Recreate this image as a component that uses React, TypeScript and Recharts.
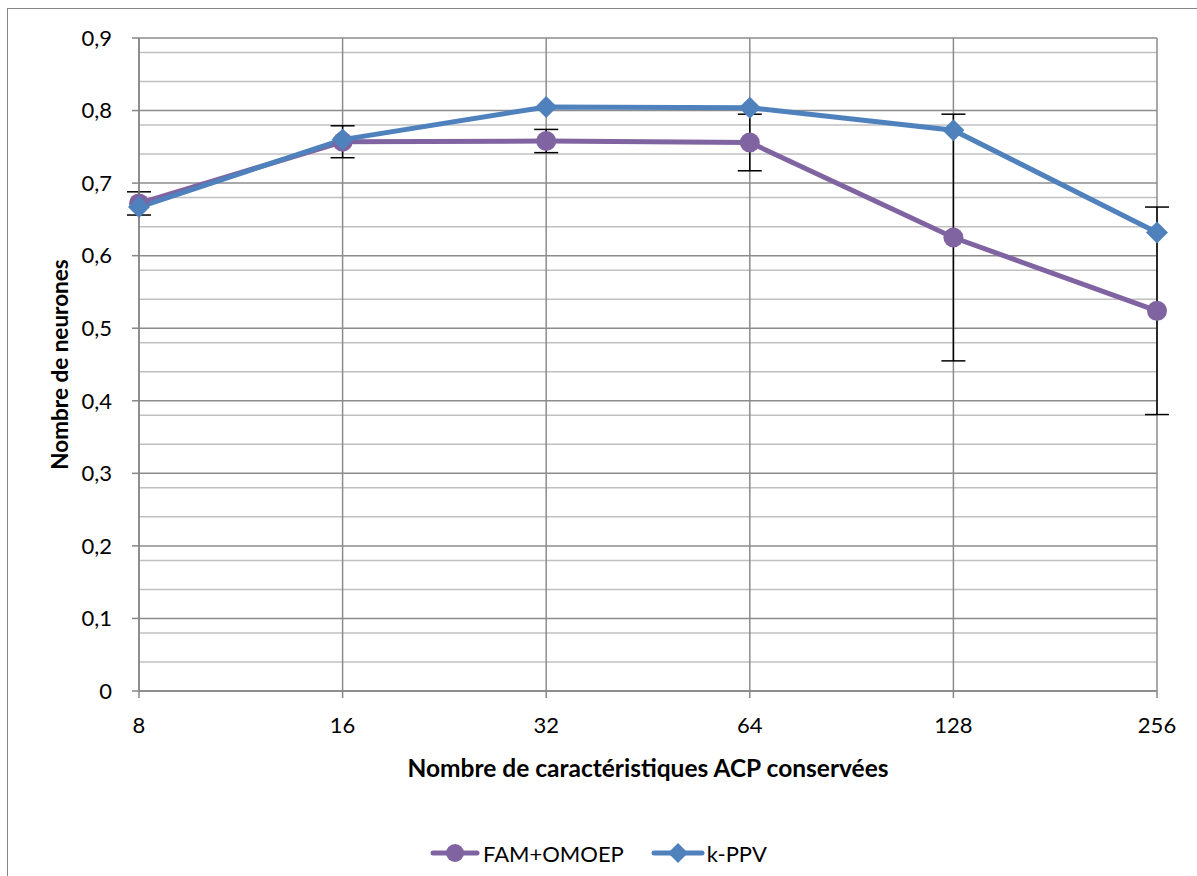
import { LineChart, Line, XAxis, YAxis, CartesianGrid, ErrorBar } from 'recharts'

const categories = ['8', '16', '32', '64', '128', '256']
const famValues = [0.672, 0.757, 0.758, 0.756, 0.625, 0.524]
const famErrors = [0.016, 0.022, 0.016, 0.039, 0.17, 0.143]
const ppvValues = [0.667, 0.76, 0.805, 0.804, 0.773, 0.632]
const yTicks = [0, 0.1, 0.2, 0.3, 0.4, 0.5, 0.6, 0.7, 0.8, 0.9]
const yMinorTicks = [
  0.02, 0.04, 0.06, 0.08, 0.12, 0.14, 0.16, 0.18, 0.22, 0.24, 0.26, 0.28,
  0.32, 0.34, 0.36, 0.38, 0.42, 0.44, 0.46, 0.48, 0.52, 0.54, 0.56, 0.58,
  0.62, 0.64, 0.66, 0.68, 0.72, 0.74, 0.76, 0.78, 0.82, 0.84, 0.86, 0.88,
]

const data = categories.map((c, i) => ({
  name: c,
  fam: famValues[i],
  famErr: famErrors[i],
  ppv: ppvValues[i],
}))

const PURPLE = '#8064A2'
const BLUE = '#4F81BD'
const FONT = 'Lato, "Open Sans", sans-serif'

const Diamond = (props: any) => {
  const { cx, cy } = props
  if (cx == null || cy == null) return null
  const s = 11
  return <polygon points={`${cx},${cy - s} ${cx + s},${cy} ${cx},${cy + s} ${cx - s},${cy}`} fill={BLUE} />
}

const Circle = (props: any) => {
  const { cx, cy } = props
  if (cx == null || cy == null) return null
  return <circle cx={cx} cy={cy} r={10} fill={PURPLE} />
}

function LegendBox() {
  return (
    <div style={{ position: 'absolute', left: 430, top: 838, display: 'flex', alignItems: 'center', fontFamily: FONT, fontSize: 22, color: '#000' }}>
      <svg width={50} height={30}>
        <line x1={3} y1={15} x2={47} y2={15} stroke={PURPLE} strokeWidth={5} strokeLinecap="round" />
        <circle cx={25} cy={15} r={9} fill={PURPLE} />
      </svg>
      <span style={{ marginLeft: 3, marginRight: 27 }}>FAM+OMOEP</span>
      <svg width={54} height={30}>
        <line x1={3} y1={15} x2={51} y2={15} stroke={BLUE} strokeWidth={5} strokeLinecap="round" />
        <polygon points="27,5 37,15 27,25 17,15" fill={BLUE} />
      </svg>
      <span style={{ marginLeft: 2 }}>k-PPV</span>
    </div>
  )
}

export default function App() {
  return (
    <div style={{ position: 'absolute', left: 0, top: 0, width: 1197, height: 876, overflow: 'hidden', background: '#fff' }}>
      <div style={{ position: 'absolute', left: 7, top: 8, width: 1220, height: 900, border: '1.5px solid #868686' }} />
      <div style={{ position: 'absolute', left: 0, top: 0 }}>
        <LineChart width={1197} height={876} data={data} margin={{ top: 38, right: 40, left: 59, bottom: 145 }}>
          <CartesianGrid horizontalValues={yMinorTicks} vertical={false} stroke="#c0c0c0" strokeWidth={1.5} />
          <CartesianGrid horizontalValues={yTicks} stroke="#8c8c8c" strokeWidth={1.5} />
          <XAxis
            dataKey="name"
            stroke="#868686"
            strokeWidth={1.5}
            tickSize={7}
            tickMargin={19}
            tick={{ fill: '#000', fontSize: 22, fontFamily: FONT }}
            height={40}
            label={{ value: 'Nombre de caractéristiques ACP conservées', position: 'insideBottom', offset: -46, fill: '#000', fontSize: 24.5, fontWeight: 'bold', fontFamily: FONT }}
          />
          <YAxis
            domain={[0, 0.9]}
            ticks={yTicks}
            stroke="#868686"
            strokeWidth={1.5}
            tickSize={7}
            tickMargin={20}
            width={80}
            tickFormatter={(v: number) => String(v).replace('.', ',')}
            tick={{ fill: '#000', fontSize: 22, fontFamily: FONT }}
            label={{ value: 'Nombre de neurones', angle: -90, position: 'insideLeft', offset: 1, style: { textAnchor: 'middle' }, fill: '#000', fontSize: 22.5, fontWeight: 'bold', fontFamily: FONT }}
          />
          <Line dataKey="fam" name="FAM+OMOEP" stroke={PURPLE} strokeWidth={5} dot={<Circle />} activeDot={false} isAnimationActive={false}>
            <ErrorBar dataKey="famErr" direction="y" width={12} stroke="#000" strokeWidth={1.5} isAnimationActive={false} />
          </Line>
          <Line dataKey="ppv" name="k-PPV" stroke={BLUE} strokeWidth={5} dot={<Diamond />} activeDot={false} isAnimationActive={false} />
        </LineChart>
      </div>
      <LegendBox />
    </div>
  )
}
